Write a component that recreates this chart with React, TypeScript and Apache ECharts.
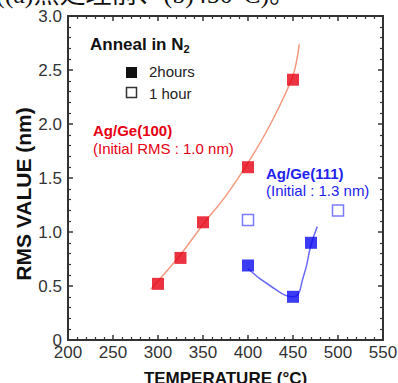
import React, { useEffect, useRef } from "react";
import * as echarts from "echarts";

const xTicks = [200, 250, 300, 350, 400, 450, 500, 550];
const yTicks = [0, 0.5, 1.0, 1.5, 2.0, 2.5, 3.0];

const red2h: [number, number][] = [
  [300, 0.52],
  [325, 0.76],
  [350, 1.09],
  [400, 1.6],
  [450, 2.41],
];
const blue2h: [number, number][] = [
  [400, 0.69],
  [450, 0.4],
  [470, 0.9],
];
const blue1h: [number, number][] = [
  [400, 1.11],
  [500, 1.2],
];
const redFit: [number, number][] = [
  [292, 0.47],
  [325, 0.79],
  [350, 1.07],
  [375, 1.33],
  [400, 1.64],
  [425, 2.0],
  [450, 2.45],
  [457, 2.74],
];
const blueFit: [number, number][] = [
  [400, 0.66],
  [425, 0.5],
  [450, 0.4],
  [462, 0.6],
  [470, 0.88],
  [477, 1.05],
];

const AX = "#333";
const RED = "#e60012";
const BLUE = "#0a0af0";
const FONT = "Liberation Sans, Arial, sans-serif";

export default function App() {
  const ref = useRef<HTMLDivElement>(null);
  useEffect(() => {
    if (!ref.current) return;
    const chart = echarts.init(ref.current, undefined, { renderer: "svg" });
    const axisCommon = {
      type: "value" as const,
      axisLine: { show: true, onZero: false, lineStyle: { color: AX, width: 2 } },
      axisTick: { show: true, inside: true, length: 5, lineStyle: { color: AX, width: 1.5 } },
      minorTick: { show: true, splitNumber: 5, length: 3, lineStyle: { color: AX, width: 1.2 } },
      splitLine: { show: false },
    };
    chart.setOption({
      animation: false,
      backgroundColor: "#fff",
      textStyle: { fontFamily: FONT },
      grid: { left: 68, right: 15, top: 16, bottom: 43, containLabel: false, outerBoundsMode: "none" },
      xAxis: [
        {
          ...axisCommon,
          min: xTicks[0],
          max: xTicks[xTicks.length - 1],
          interval: 50,
          position: "bottom",
          axisLabel: { fontSize: 17, color: AX, margin: 4, fontFamily: FONT },
          name: "TEMPERATURE (°C)",
          nameLocation: "middle",
          nameGap: 30,
          nameTextStyle: { fontSize: 17, fontWeight: "bold", color: "#111", fontFamily: FONT },
        },
        {
          ...axisCommon,
          min: xTicks[0],
          max: xTicks[xTicks.length - 1],
          interval: 50,
          position: "top",
          axisLabel: { show: false },
        },
      ],
      yAxis: [
        {
          ...axisCommon,
          min: yTicks[0],
          max: yTicks[yTicks.length - 1],
          interval: 0.5,
          position: "left",
          axisLabel: {
            fontSize: 17,
            color: AX,
            margin: 6,
            fontFamily: FONT,
            formatter: (v: number) => (v === 0 ? "0" : v.toFixed(1)),
          },
        },
        {
          ...axisCommon,
          min: yTicks[0],
          max: yTicks[yTicks.length - 1],
          interval: 0.5,
          position: "right",
          axisLabel: { show: false },
        },
      ],
      graphic: [
        {
          type: "text",
          left: -4,
          top: -19,
          style: {
            text: "((a)熱処理前、(b)450°C)。",
            font: "26px 'Liberation Serif', 'Noto Sans CJK JP', serif",
            fill: "#111",
          },
        },
        {
          type: "text",
          x: 23,
          y: 194,
          rotation: Math.PI / 2,
          style: {
            text: "RMS VALUE (nm)",
            font: `bold 21px ${FONT}`,
            fill: "#111",
            align: "center",
            verticalAlign: "middle",
          },
        },
        {
          type: "text",
          x: 90,
          y: 44,
          style: {
            text: "{a|Anneal in N}{s|2}",
            rich: {
              a: { font: `bold 17px ${FONT}`, fill: "#111" },
              s: { font: `bold 11px ${FONT}`, fill: "#111", padding: [10, 0, 0, 0] },
            },
            verticalAlign: "middle",
          },
        },
        { type: "rect", shape: { x: 126, y: 67, width: 11, height: 11 }, style: { fill: "#111" } },
        {
          type: "text",
          x: 149,
          y: 71,
          style: { text: "2hours", font: `15px ${FONT}`, fill: "#222", verticalAlign: "middle" },
        },
        {
          type: "rect",
          shape: { x: 126.5, y: 87.5, width: 10, height: 10 },
          style: { fill: "#fff", stroke: "#333", lineWidth: 1.5 },
        },
        {
          type: "text",
          x: 149,
          y: 93,
          style: { text: "1 hour", font: `15px ${FONT}`, fill: "#222", verticalAlign: "middle" },
        },
        {
          type: "text",
          x: 93,
          y: 130,
          style: { text: "Ag/Ge(100)", font: `bold 15px ${FONT}`, fill: RED, verticalAlign: "middle" },
        },
        {
          type: "text",
          x: 93,
          y: 148,
          style: { text: "(Initial RMS : 1.0 nm)", font: `15px ${FONT}`, fill: RED, verticalAlign: "middle" },
        },
        {
          type: "text",
          x: 266,
          y: 173,
          style: { text: "Ag/Ge(111)", font: `bold 15px ${FONT}`, fill: "#2222ee", verticalAlign: "middle" },
        },
        {
          type: "text",
          x: 266,
          y: 190,
          style: { text: "(Initial : 1.3 nm)", font: `15px ${FONT}`, fill: "#2222ee", verticalAlign: "middle" },
        },
      ],
      series: [
        {
          type: "line",
          data: redFit,
          smooth: 0.3,
          showSymbol: false,
          lineStyle: { color: "#f39a80", width: 1.5 },
          z: 1,
        },
        {
          type: "line",
          data: blueFit,
          smooth: 0.5,
          showSymbol: false,
          lineStyle: { color: "#6a6af5", width: 1.5 },
          z: 1,
        },
        {
          type: "scatter",
          data: red2h,
          symbol: "rect",
          symbolSize: 12,
          itemStyle: { color: RED },
          z: 3,
        },
        {
          type: "scatter",
          data: blue2h,
          symbol: "rect",
          symbolSize: 12,
          itemStyle: { color: BLUE },
          z: 3,
        },
        {
          type: "scatter",
          data: blue1h,
          symbol: "rect",
          symbolSize: 11,
          itemStyle: { color: "#fff", borderColor: "#5a5aff", borderWidth: 1.5 },
          z: 3,
        },
      ],
    });
    return () => chart.dispose();
  }, []);
  return <div ref={ref} style={{ width: 398, height: 383, position: "fixed", left: 0, top: 0 }} />;
}
